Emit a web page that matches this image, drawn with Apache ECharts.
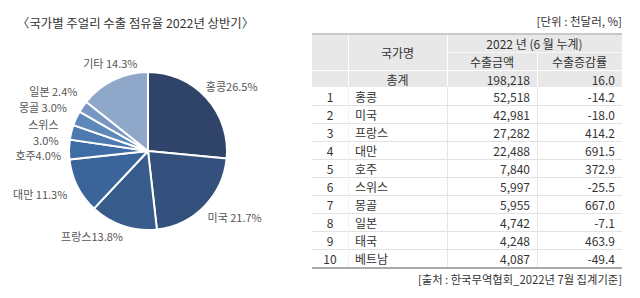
<!DOCTYPE html>
<html><head><meta charset="utf-8">
<script src="https://cdn.jsdelivr.net/npm/echarts@6/dist/echarts.min.js"></script>
<style>
html,body{margin:0;padding:0;background:#fff;}
body{width:640px;height:298px;position:relative;overflow:hidden;font-family:"Noto Sans CJK KR","Noto Sans",sans-serif;color:#333;}
#chart{position:absolute;left:0;top:0;width:300px;height:298px;}
#unit{position:absolute;right:18px;top:13px;font-size:11.5px;color:#333;}
#src{position:absolute;right:18px;top:271px;font-size:11.3px;color:#333;}
#tbl{position:absolute;left:0;top:0;width:640px;height:298px;}
.cell{position:absolute;box-sizing:border-box;font-size:12px;color:#333;display:flex;align-items:center;white-space:nowrap;}
.c{justify-content:center;}
.l{justify-content:flex-start;padding-left:7px;}
.r{justify-content:flex-end;padding-right:7px;}
.hd{background:#e8e8e8;}
.line{position:absolute;}
</style></head>
<body>
<div id="chart"></div>
<div id="unit">[단위 : 천달러, %]</div>
<div id="tbl"></div>
<div id="src">[출처 : 한국무역협회_2022년 7월 집계기준]</div>
<script>
// Pie data (share %)
const pieNames = ['홍콩','미국','프랑스','대만','호주','스위스','몽골','일본','기타'];
const pieShares = [26.5, 21.7, 13.8, 11.3, 4.0, 3.0, 3.0, 2.4, 14.3];
const pieSeparators = ['', ' ', '', ' ', '', '\n', ' ', ' ', ' '];
const pieColors = ['#2f4468','#34507d','#375b8b','#3a649a','#3d6ca6','#4d7ab0','#5e88ba','#7896c2','#8fa7c9'];

// Table data
const headerName = '국가명';
const headerPeriod = '2022 년 (6 월 누계)';
const headerAmount = '수출금액';
const headerRate = '수출증감률';
const totalLabel = '총계';
const totalAmount = '198,218';
const totalRate = '16.0';
const rankNames = ['홍콩','미국','프랑스','대만','호주','스위스','몽골','일본','태국','베트남'];
const exportAmounts = ['52,518','42,981','27,282','22,488','7,840','5,997','5,955','4,742','4,248','4,087'];
const exportRates = ['-14.2','-18.0','414.2','691.5','372.9','-25.5','667.0','-7.1','463.9','-49.4'];

// ---- table layout (styling/geometry) ----
const colX = [312, 348, 447, 537, 622];
const hTop = 35, h1 = 52, h2 = 70, tTop = 71, dTop = 87, rowH = 18;
const T = document.getElementById('tbl');
function cell(x0,x1,y0,y1,txt,cls){
  const d=document.createElement('div');
  d.className='cell '+cls;
  d.style.left=x0+'px';d.style.top=y0+'px';d.style.width=(x1-x0)+'px';d.style.height=(y1-y0)+'px';
  d.textContent=txt; T.appendChild(d);
}
function line(x,y,w,h,c){
  const d=document.createElement('div');d.className='line';
  d.style.left=x+'px';d.style.top=y+'px';d.style.width=w+'px';d.style.height=h+'px';d.style.background=c;T.appendChild(d);
}
cell(colX[0],colX[4],hTop,dTop,'','hd');
line(colX[0],33,colX[4]-colX[0],2,'#c8c8c8');
cell(colX[1],colX[2],hTop,h2,headerName,'c');
cell(colX[2],colX[4],hTop,h1,headerPeriod,'c');
cell(colX[2],colX[3],h1,h2,headerAmount,'c');
cell(colX[3],colX[4],h1,h2,headerRate,'c');
line(colX[2],h1,colX[4]-colX[2],1,'#f7f7f7');
line(colX[0],h2,colX[4]-colX[0],1,'#ffffff');
line(colX[1],hTop,1,dTop-hTop,'#ffffff');
line(colX[2],hTop,1,dTop-hTop,'#ffffff');
line(colX[3],h1,1,dTop-h1,'#ffffff');
cell(colX[1],colX[2],tTop,dTop,totalLabel,'c');
cell(colX[2],colX[3],tTop,dTop,totalAmount,'r');
cell(colX[3],colX[4],tTop,dTop,totalRate,'r');
rankNames.forEach((n,i)=>{
  const y0=dTop+i*rowH, y1=y0+rowH;
  cell(colX[0],colX[1],y0,y1,String(i+1),'c');
  cell(colX[1],colX[2],y0,y1,n,'l');
  cell(colX[2],colX[3],y0,y1,exportAmounts[i],'r');
  cell(colX[3],colX[4],y0,y1,exportRates[i],'r');
  if(i>0) line(colX[0],y0,colX[4]-colX[0],1,'#e2e2e2');
});
const dBottom = dTop+rankNames.length*rowH;
line(colX[1],dTop,1,dBottom-dTop,'#f0f0f0');
line(colX[2],dTop,1,dBottom-dTop,'#e6e6e6');
line(colX[3],dTop,1,dBottom-dTop,'#e6e6e6');
line(colX[0],dBottom,colX[4]-colX[0],2,'#a9a9a9');

// ---- pie ----
const labelTweaks = {
  '홍콩':{dx:-13,dy:-5}, '미국':{dx:-9,dy:4}, '프랑스':{align:'right',dx:8,dy:1},
  '대만':{dx:4,dy:3}, '호주':{dx:7,dy:6}, '스위스':{dx:2,dy:2}, '몽골':{dx:5,dy:-7},
  '일본':{dx:8,dy:-10}, '기타':{align:'center',dx:6,dy:-8}
};
const chart = echarts.init(document.getElementById('chart'), null, {renderer:'svg'});
chart.setOption({
  animation:false,
  title:{text:'〈국가별 주얼리 수출 점유율 2022년 상반기〉',left:12,top:12,
    textStyle:{fontSize:12.4,fontWeight:'normal',color:'#333',fontFamily:'"Noto Sans CJK KR"'}},
  series:[{
    type:'pie',
    center:[148,151],
    radius:[0,79],
    startAngle:90,
    clockwise:true,
    avoidLabelOverlap:false,
    itemStyle:{borderColor:'#fff',borderWidth:2},
    label:{show:true,position:'outside',color:'#555',fontSize:11,fontFamily:'"Noto Sans CJK KR"',lineHeight:16,
      formatter:p=>p.name+pieSeparators[p.dataIndex]+pieShares[p.dataIndex].toFixed(1)+'%'},
    labelLine:{show:false,length:10,length2:0},
    labelLayout:p=>labelTweaks[pieNames[p.dataIndex]]||{},
    data:pieNames.map((n,i)=>({name:n,value:pieShares[i],itemStyle:{color:pieColors[i]}}))
  }]
});
</script>
</body></html>
